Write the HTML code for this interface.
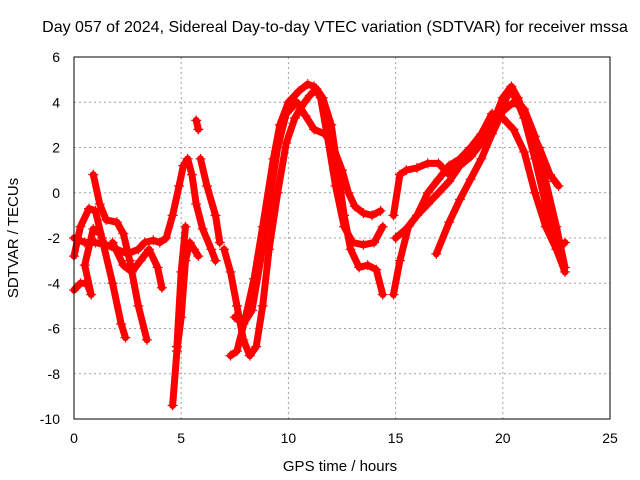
<!DOCTYPE html>
<html><head><meta charset="utf-8">
<style>
body{margin:0;background:#fff;}
svg{display:block;font-family:"Liberation Sans",sans-serif;}
</style></head>
<body>
<svg id="chart" width="640" height="480" viewBox="0 0 640 480">
<rect width="640" height="480" fill="#fff"/>
<text x="335" y="32" font-size="16" text-anchor="middle">Day 057 of 2024, Sidereal Day-to-day VTEC variation (SDTVAR) for receiver mssa</text>
<text x="340" y="471" font-size="15" text-anchor="middle">GPS time / hours</text>
<text transform="translate(18,238) rotate(-90)" font-size="15" text-anchor="middle">SDTVAR / TECUs</text>
<g id="grid"></g>
<g id="ticks"></g>
<g id="series"></g>
<rect x="74" y="57" width="536" height="362" fill="none" stroke="#000" stroke-width="1"/>
</svg>
<script>
const xTicks=[0,5,10,15,20,25];
const yTicks=[6,4,2,0,-2,-4,-6,-8,-10];
const t1=[[0,-2.8],[0.3,-1.5],[0.7,-0.7],[1.0,-0.8],[1.3,-2],[1.8,-4],[2.2,-5.8],[2.4,-6.4]];
const t2=[[0,-4.3],[0.3,-4.0],[0.6,-4.0],[0.8,-4.5],[0.5,-3.2],[0.9,-1.6],[1.2,-1.8]];
const t3=[[0.9,0.8],[1.2,-0.5],[1.5,-1.2],[2.0,-1.3],[2.3,-1.8],[2.6,-3.0],[3.0,-5],[3.4,-6.5]];
const t4=[[0,-2],[0.5,-2.2],[1,-2.2],[1.5,-2.3],[2,-2.5],[2.5,-2.7],[3,-2.5],[3.3,-2.2],[3.7,-2.1],[4.0,-2.2],[4.3,-2.0],[4.6,-1.0],[4.9,0.3],[5.1,1.2],[5.3,1.5],[5.5,0.8],[5.7,-0.5],[6.0,-1.6],[6.4,-2.5],[6.6,-3.0]];
const t5=[[1.8,-2.2],[2.3,-3.2],[2.7,-3.5],[3.1,-3.0],[3.5,-2.5],[3.9,-3.3],[4.1,-4.2]];
const t6=[[4.6,-9.4],[4.8,-7],[5.0,-5.5],[5.2,-3],[5.4,-2.2],[5.6,-2.5],[5.8,-2.8]];
const t7=[[4.8,-6.8],[5.0,-3.5],[5.2,-1.5]];
const t8=[[5.7,3.2],[5.8,2.8]];
const t9=[[5.9,1.5],[6.2,0.3],[6.6,-1],[6.8,-2.2]];
const t10=[[7.0,-2.5],[7.3,-3.5],[7.6,-5],[7.9,-6.5],[8.2,-7.2],[8.5,-6.8],[8.8,-5],[9.1,-2.5],[9.5,0],[9.9,2.2],[10.3,3.3],[10.6,3.8],[11,4.3],[11.3,4.6],[11.6,4.2],[12,3.0],[12.3,1.0],[12.6,-1],[12.9,-2.5],[13.3,-3.3],[13.7,-3.2],[14.1,-3.4],[14.4,-4.5]];
const t11=[[7.3,-7.2],[7.6,-7],[8.0,-5.5],[8.4,-3.8],[8.8,-1.5],[9.3,1.5],[9.6,3.0],[10.0,4.0],[10.5,4.5],[10.9,4.8],[11.2,4.7],[11.5,4.2],[11.8,2.6],[12.2,0.3],[12.6,-1.5],[13.0,-2.2],[13.5,-2.3],[14.0,-2.2],[14.4,-1.5]];
const t12=[[7.5,-5.5],[7.9,-5.8],[8.3,-5.2],[8.7,-3],[9.1,-0.5],[9.5,2],[9.9,3.5],[10.4,4.0],[10.8,3.4],[11.2,2.8],[11.7,2.6],[12.1,2.0],[12.5,1.0],[12.8,0],[13.1,-0.6],[13.5,-0.9],[13.9,-1.0],[14.3,-0.8]];
const t13=[[14.9,-1.0],[15.2,0.8],[15.5,1.0],[16,1.1],[16.5,1.3],[17,1.3],[17.5,0.8],[18,1.2],[18.5,1.6],[19,2.2],[19.5,3.3],[20,3.8],[20.3,4.5],[20.6,4.2],[21,3.3],[21.5,1.5],[22,-0.5],[22.5,-2.5],[22.9,-3.5]];
const t14=[[14.9,-4.5],[15.2,-3],[15.6,-1.5],[16.0,-1.0],[16.5,-0.5],[17,0],[17.5,0.5],[18,1.2],[18.5,1.6],[19,2.2],[19.5,3.0],[20,4.2],[20.4,4.7],[20.7,4.2],[21.2,3.0],[21.7,2.0],[22.2,0.8],[22.6,0.3]];
const t15=[[15,-2],[15.5,-1.6],[16,-1.0],[16.5,0],[17,0.6],[17.5,1.2],[18,1.5],[18.5,2.0],[19,2.6],[19.5,3.5],[20,3.3],[20.5,2.8],[21,1.8],[21.5,0],[22,-1.5],[22.5,-2.5],[22.9,-2.2]];
const t16=[[16.9,-2.7],[17.5,-1.3],[18,-0.3],[18.5,0.6],[19,1.5],[19.5,2.6],[20,3.6],[20.5,4.0],[21,3.7],[21.5,2.5],[22,0.5],[22.5,-1.5],[22.9,-3.3]];
const tracks=[t1,t2,t3,t4,t5,t6,t7,t8,t9,t10,t11,t12,t13,t14,t15,t16];

const NS="http://www.w3.org/2000/svg";
const L=74,R=610,T=57,B=419;
function xs(v){return L+(v-0)/(25-0)*(R-L);}
function ys(v){return B-(v+10)/(16)*(B-T);}
const grid=document.getElementById('grid'),ticks=document.getElementById('ticks'),ser=document.getElementById('series');
function mk(tag,a,p){const e=document.createElementNS(NS,tag);for(const k in a)e.setAttribute(k,a[k]);p.appendChild(e);return e;}
xTicks.forEach(v=>{
  const x=xs(v);
  if(v>0&&v<25){const g=mk('line',{x1:x,y1:T,x2:x,y2:B,stroke:'#a0a0a0','stroke-dasharray':'2,3','stroke-width':1},grid);
  
  }
  const t=mk('text',{x:x,y:B+24,'font-size':14,'text-anchor':'middle'},ticks);t.textContent=v;
  
  
});
yTicks.forEach(v=>{
  const y=ys(v);
  if(v>-10&&v<6){const g=mk('line',{x1:L,y1:y,x2:R,y2:y,stroke:'#a0a0a0','stroke-dasharray':'2,3','stroke-width':1},grid);
  
  }
  const t=mk('text',{x:L-14,y:y+5,'font-size':14,'text-anchor':'end'},ticks);t.textContent=v;
  
  
});
tracks.forEach((tr,i)=>{
  const p=mk('polyline',{points:tr.map(d=>xs(d[0])+','+ys(d[1])).join(' '),fill:'none',stroke:'#ff0000','stroke-width':7,'stroke-linejoin':'round','stroke-linecap':'round'},ser);
  
  
  tr.forEach(d=>{
    const x=xs(d[0]),y=ys(d[1]);
    const m=mk('path',{d:`M${x-5},${y}H${x+5}M${x},${y-5}V${y+5}`,stroke:'#ff0000','stroke-width':1.2},ser);
    
    
  });
});
</script>
</body></html>
